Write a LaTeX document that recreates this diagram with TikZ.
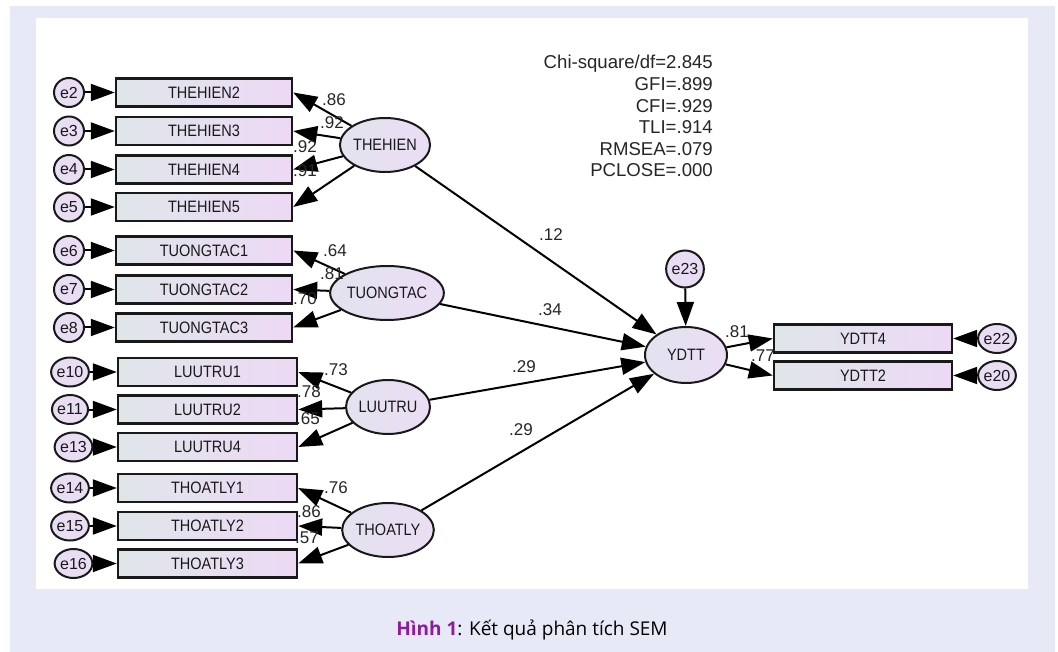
\documentclass[tikz,border=0pt]{standalone}
\usepackage{fontspec}
\setmainfont{Liberation Sans}
\newfontfamily\condfont{Liberation Sans}[FakeStretch=0.88]
\newfontfamily\capfont{Open Sans}
\usetikzlibrary{arrows.meta,shapes.geometric}
\definecolor{panel}{HTML}{E7EAF6}
\definecolor{boxL}{HTML}{DFE6EA}
\definecolor{boxR}{HTML}{EDD9F5}
\definecolor{latL}{HTML}{E3E3EF}
\definecolor{latR}{HTML}{EBDDF4}
\definecolor{errc}{HTML}{E9DDF3}
\definecolor{capPurple}{HTML}{8E1A9C}
\begin{document}
\begin{tikzpicture}[x=1pt,y=-1pt,
  obs/.style={rectangle, draw=black!90, line width=2.4pt, minimum height=28pt, inner sep=0pt,
    left color=boxL, right color=boxR, text=black!90, font=\condfont\fontsize{16.5}{18}\selectfont},
  lat/.style={ellipse, draw=black!90, line width=2pt, minimum width=84pt, minimum height=54pt, inner sep=0pt,
    left color=latL, right color=latR, text=black!90, font=\condfont\fontsize{16.5}{18}\selectfont},
  err/.style={ellipse, draw=black!90, line width=2pt, minimum width=30pt, minimum height=29pt, inner sep=0pt,
    fill=errc, text=black!90, font=\fontsize{16}{18}\selectfont},
  arr/.style={-{Triangle[length=24pt,width=17pt]}, line width=2pt, draw=black},
  lbl/.style={inner sep=0pt, text=black!85, font=\fontsize{17}{18}\selectfont},
  fit/.style={inner sep=0pt, anchor=base east, text=black!85, font=\fontsize{18.6}{21.6}\selectfont}]
\useasboundingbox (0,0) rectangle (1058,652);
\fill[white] (0,0) rectangle (1058,652);
\fill[panel] (10,6) rectangle (1055,652);
\fill[white] (36,18) rectangle (1028,589);

% THEHIEN block
\node[obs, minimum width=176pt] (b2) at (204,92.5) {THEHIEN2};
\node[obs, minimum width=176pt] (b3) at (204,131) {THEHIEN3};
\node[obs, minimum width=176pt] (b4) at (204,169.5) {THEHIEN4};
\node[obs, minimum width=176pt] (b5) at (204,207) {THEHIEN5};
\node[err] (e2) at (69,92.5) {e2};
\node[err] (e3) at (69,131) {e3};
\node[err] (e4) at (69,169.5) {e4};
\node[err] (e5) at (69,207) {e5};
\node[lat] (TH) at (385,145) {THEHIEN};

% TUONGTAC block
\node[obs, minimum width=176pt] (b6) at (204,250.5) {TUONGTAC1};
\node[obs, minimum width=176pt] (b7) at (204,289.5) {TUONGTAC2};
\node[obs, minimum width=176pt] (b8) at (204,327.5) {TUONGTAC3};
\node[err] (e6) at (69,250.5) {e6};
\node[err] (e7) at (69,289.5) {e7};
\node[err] (e8) at (69,327.5) {e8};
\node[lat] (TT) at (387,293) {TUONGTAC};

% LUUTRU block
\node[obs, minimum width=179pt] (b10) at (207.5,372) {LUUTRU1};
\node[obs, minimum width=179pt] (b11) at (207.5,409.5) {LUUTRU2};
\node[obs, minimum width=179pt] (b13) at (207.5,447) {LUUTRU4};
\node[err] (e10) at (70,372) {e10};
\node[err] (e11) at (70,409.5) {e11};
\node[err] (e13) at (73.5,447) {e13};
\node[lat] (LT) at (388,407) {LUUTRU};

% THOATLY block
\node[obs, minimum width=179pt] (b14) at (207.5,488) {THOATLY1};
\node[obs, minimum width=179pt] (b15) at (207.5,526) {THOATLY2};
\node[obs, minimum width=179pt] (b16) at (207.5,563.5) {THOATLY3};
\node[err] (e14) at (70,488) {e14};
\node[err] (e15) at (70,526) {e15};
\node[err] (e16) at (73.5,563.5) {e16};
\node[lat] (TL) at (388,530) {THOATLY};

% YDTT block
\node[lat, minimum width=82pt, minimum height=56pt] (YD) at (686,355) {YDTT};
\node[err, minimum width=37pt, minimum height=37pt] (e23) at (685,269) {e23};
\node[obs, minimum width=178pt] (y4) at (863,338.5) {YDTT4};
\node[obs, minimum width=178pt] (y2) at (863,375.5) {YDTT2};
\node[err] (e22) at (997,338.5) {e22};
\node[err] (e20) at (997,375.5) {e20};

% error arrows
\foreach \e/\b in {e2/b2,e3/b3,e4/b4,e5/b5,e6/b6,e7/b7,e8/b8,e10/b10,e11/b11,e13/b13,e14/b14,e15/b15,e16/b16,e22/y4,e20/y2,e23/YD}
  \draw[arr] (\e) -- (\b);

% loadings
\foreach \l/\b in {TH/b2,TH/b3,TH/b4,TH/b5,TT/b6,TT/b7,TT/b8,LT/b10,LT/b11,LT/b13,TL/b14,TL/b15,TL/b16}
  \draw[arr] (\l) -- (\b.east);
\draw[arr] (YD) -- (y4.west);
\draw[arr] (YD) -- (y2.west);

% structural paths
\foreach \l in {TH,TT,LT,TL}
  \draw[arr] (\l) -- (YD);

% loading labels
\node[lbl] (l1) at (334,100) {.86};
\node[lbl] (l2) at (332,123) {.92};
\node[lbl] (l3) at (305,147) {.92};
\node[lbl] (l4) at (305,171) {.91};
\node[lbl] (l5) at (335,251) {.64};
\node[lbl] (l6) at (332,274) {.81};
\node[lbl] (l7) at (305,299) {.70};
\node[lbl] (l8) at (336,370) {.73};
\node[lbl] (l9) at (309,392) {.78};
\node[lbl] (l10) at (308,419) {.65};
\node[lbl] (l11) at (336,488) {.76};
\node[lbl] (l12) at (309,512) {.86};
\node[lbl] (l13) at (307,538) {.57};
\node[lbl] (s1) at (551,235) {.12};
\node[lbl] (s2) at (550,310) {.34};
\node[lbl] (s3) at (524,367) {.29};
\node[lbl] (s4) at (521,430) {.29};
\node[lbl] (y4l) at (737,332) {.81};
\node[lbl] (y2l) at (763,356) {.77};

% fit statistics
\node[fit] (f1) at (713,69) {Chi-square/df=2.845};
\node[fit] (f2) at (713,90.6) {GFI=.899};
\node[fit] (f3) at (713,112.2) {CFI=.929};
\node[fit] (f4) at (713,133.8) {TLI=.914};
\node[fit] (f5) at (713,155.4) {RMSEA=.079};
\node[fit] (f6) at (713,177) {PCLOSE=.000};

% caption
\node[anchor=base, inner sep=0pt, font=\capfont\fontsize{19}{22}\selectfont] (cap) at (532,635)
  {\textcolor{capPurple}{\bfseries Hình 1}: Kết quả phân tích SEM};
\end{tikzpicture}
\end{document}
